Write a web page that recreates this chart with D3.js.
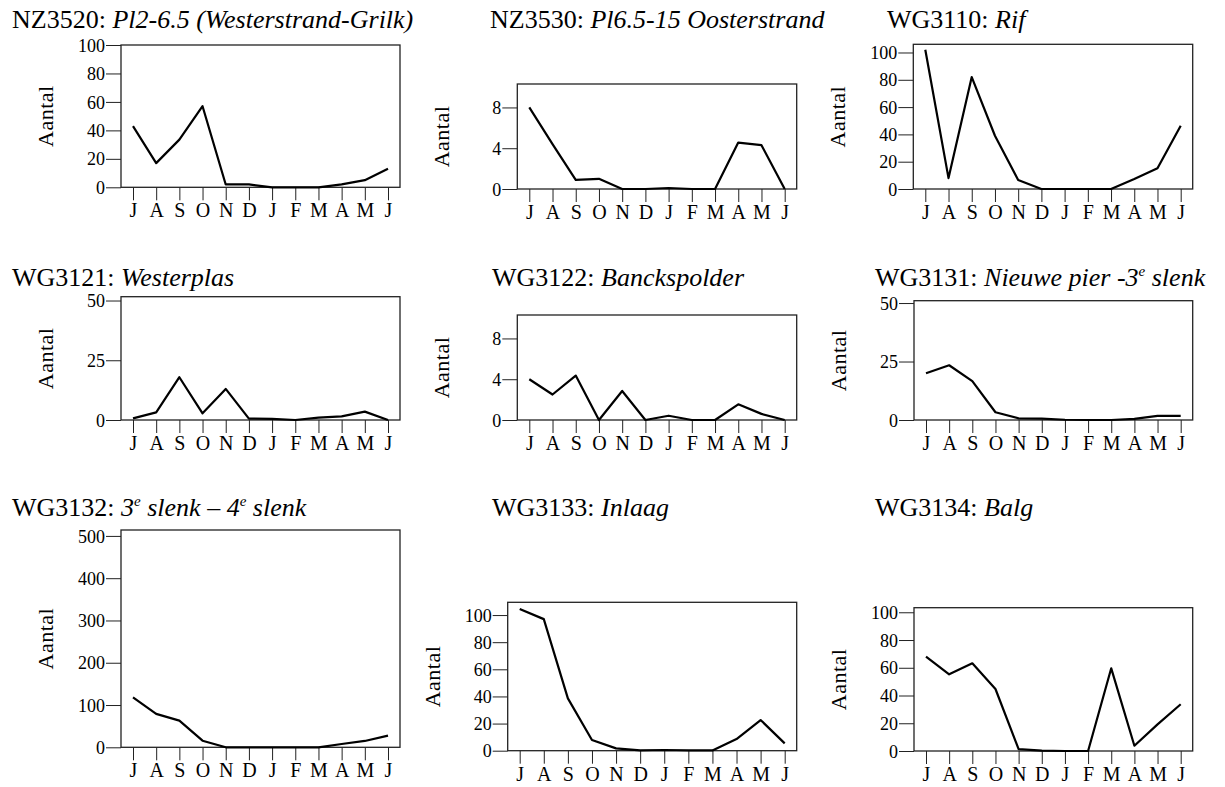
<!DOCTYPE html>
<html lang="nl">
<head>
<meta charset="UTF-8">
<title>Aantal per maand</title>
<script src="https://d3js.org/d3.v7.min.js"></script>
<style>
  body { margin: 0; background: #fff; }
</style>
</head>
<body>
<script>
// months, July to June
var months = ["J", "A", "S", "O", "N", "D", "J", "F", "M", "A", "M", "J"];

// panel titles: area code + name
var codes = ["NZ3520", "NZ3530", "WG3110", "WG3121", "WG3122", "WG3131", "WG3132", "WG3133", "WG3134"];
var names = [
  [["Pl2-6.5 (Westerstrand-Grilk)"]],
  [["Pl6.5-15 Oosterstrand"]],
  [["Rif"]],
  [["Westerplas"]],
  [["Banckspolder"]],
  [["Nieuwe pier -3"], ["e", "sup"], [" slenk"]],
  [["3"], ["e", "sup"], [" slenk \u2013 4"], ["e", "sup"], [" slenk"]],
  [["Inlaag"]],
  [["Balg"]]
];

// y axis maxima and ticks
var yMax = [100, 10.3, 106, 51.6, 10.3, 51, 514, 109.4, 103.3];
var yTicks = [
  [0, 20, 40, 60, 80, 100],
  [0, 4, 8],
  [0, 20, 40, 60, 80, 100],
  [0, 25, 50],
  [0, 4, 8],
  [0, 25, 50],
  [0, 100, 200, 300, 400, 500],
  [0, 20, 40, 60, 80, 100],
  [0, 20, 40, 60, 80, 100]
];

// counts per month
var nz3520 = [43, 17, 33.5, 57, 2, 2, 0, 0, 0, 2, 5, 13];
var nz3530 = [8, 4.4, 0.9, 1.0, 0, 0, 0.1, 0, 0, 4.55, 4.3, 0];
var wg3110 = [102, 8, 82, 39, 6.6, 0, 0, 0, 0, 7.3, 15.2, 46.4];
var wg3121 = [0.7, 3.2, 17.9, 2.8, 13, 0.6, 0.5, 0, 1, 1.5, 3.5, 0];
var wg3122 = [4, 2.5, 4.36, 0, 2.85, 0, 0.42, 0, 0, 1.54, 0.6, 0];
var wg3131 = [20, 23.4, 16.6, 3.3, 0.7, 0.6, 0.1, 0, 0, 0.5, 1.8, 1.8];
var wg3132 = [118, 79, 63, 15.6, 0, 0, 0, 0, 0, 7.8, 15, 27.5];
var wg3133 = [104.5, 97, 38.6, 7.9, 1.7, 0.3, 0.5, 0.3, 0.2, 8.6, 22.6, 5.4];
var wg3134 = [68, 55.3, 63.2, 44.7, 1.4, 0.3, 0, 0, 59.6, 3.8, 19.2, 33.7];
var series = [nz3520, nz3530, wg3110, wg3121, wg3122, wg3131, wg3132, wg3133, wg3134];

// page layout of each panel (plot box + title position)
var layout = [
  {l: 121,   r: 400,   t: 45,    b: 187.3, tx: 12,  ty: 28},
  {l: 517.3, r: 796.7, t: 84,    b: 189,   tx: 490, ty: 28},
  {l: 913.3, r: 1192.7, t: 44.3, b: 189,   tx: 887, ty: 28},
  {l: 121,   r: 400,   t: 296.7, b: 420,   tx: 12,  ty: 286},
  {l: 517.3, r: 796.7, t: 315,   b: 420,   tx: 492, ty: 286},
  {l: 914,   r: 1192.7, t: 300.7, b: 420,  tx: 875, ty: 286},
  {l: 121,   r: 400,   t: 530,   b: 747.3, tx: 12,  ty: 516},
  {l: 507.7, r: 796.7, t: 602.3, b: 750.7, tx: 492, ty: 516},
  {l: 914,   r: 1192.7, t: 607.7, b: 751,  tx: 875, ty: 516}
];

var serif = "'Liberation Serif', 'Times New Roman', serif";

var svg = d3.select("body").append("svg")
    .attr("width", 1225)
    .attr("height", 787);

layout.forEach(function(p, i) {
  var g = svg.append("g");

  var x = d3.scalePoint()
      .domain(d3.range(12))
      .range([p.l + 12, p.r - 12]);
  var y = d3.scaleLinear()
      .domain([0, yMax[i]])
      .range([p.b, p.t]);

  // title
  var title = g.append("text")
      .attr("x", p.tx)
      .attr("y", p.ty)
      .style("font-family", serif)
      .style("font-size", "26px");
  title.append("tspan").text(codes[i] + ": ");
  var raised = false;
  names[i].forEach(function(part) {
    var ts = title.append("tspan")
        .style("font-style", "italic")
        .text(part[0]);
    if (part[1] == "sup") {
      ts.attr("dy", -10).style("font-size", "15px");
      raised = true;
    } else if (raised) {
      ts.attr("dy", 10);
      raised = false;
    }
  });

  // y axis
  var yAxis = g.append("g")
      .attr("transform", "translate(" + p.l + ",0)")
      .call(d3.axisLeft(y).tickValues(yTicks[i]).tickSize(15).tickPadding(1));
  yAxis.select(".domain").remove();
  yAxis.selectAll("text")
      .style("font-family", serif)
      .style("font-size", "18px")
      .attr("dy", "0.34em");
  yAxis.selectAll("line").attr("stroke", "#222");

  // x axis
  var xAxis = g.append("g")
      .attr("transform", "translate(0," + p.b + ")")
      .call(d3.axisBottom(x).tickSize(13).tickPadding(3).tickFormat(function(d) { return months[d]; }));
  xAxis.select(".domain").remove();
  xAxis.selectAll("text")
      .style("font-family", serif)
      .style("font-size", "20px");
  xAxis.selectAll("line").attr("stroke", "#222");

  // y label
  g.append("text")
      .attr("transform", "translate(" + (p.l - 68) + "," + ((p.t + p.b) / 2) + ") rotate(-90)")
      .attr("text-anchor", "middle")
      .style("font-family", serif)
      .style("font-size", "22px")
      .style("letter-spacing", "0.5px")
      .text("Aantal");

  // plot box
  g.append("rect")
      .attr("x", p.l)
      .attr("y", p.t)
      .attr("width", p.r - p.l)
      .attr("height", p.b - p.t)
      .attr("fill", "none")
      .attr("stroke", "#222")
      .attr("stroke-width", 1.3);

  // line
  var line = d3.line()
      .x(function(d, j) { return x(j); })
      .y(function(d) { return y(d); });

  g.append("path")
      .datum(series[i])
      .attr("d", line)
      .attr("fill", "none")
      .attr("stroke", "#000")
      .attr("stroke-width", 2.2)
      .attr("stroke-linejoin", "round");
});
</script>
</body>
</html>
